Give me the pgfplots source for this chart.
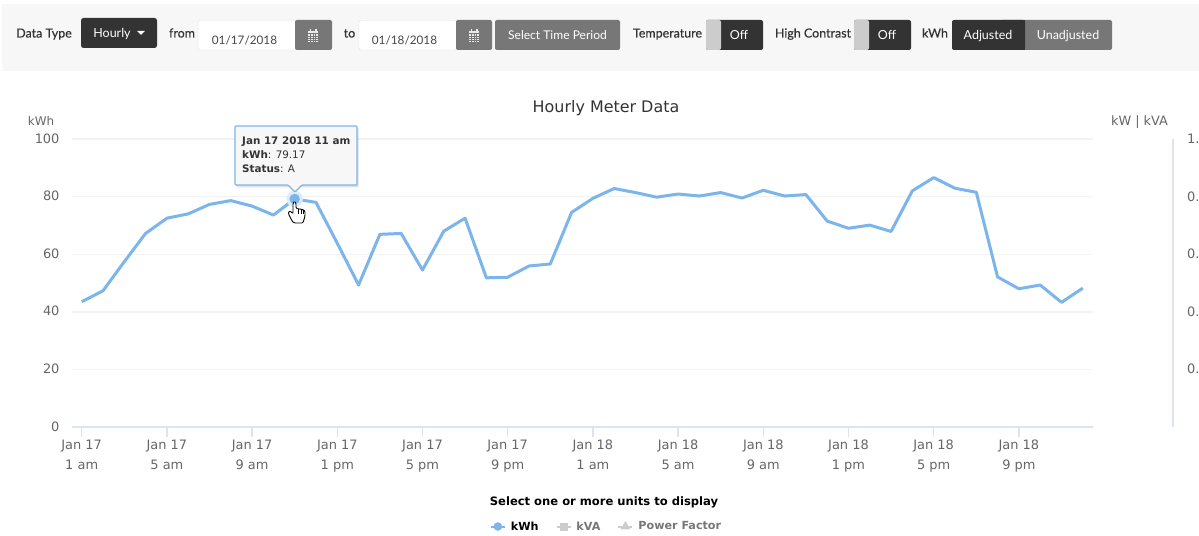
\documentclass[border=0pt]{standalone}
\usepackage{pgfplots}
\pgfplotsset{compat=1.18}
\usepackage{fontspec}
\setmainfont{DejaVu Sans}
\newfontfamily\ui{Lato}
\newfontfamily\uib[FakeBold=0.35]{Lato}
\definecolor{barbg}{HTML}{F7F7F7}
\definecolor{dk}{HTML}{333333}
\definecolor{md}{HTML}{777777}
\definecolor{knob}{HTML}{CCCCCC}
\definecolor{lblue}{HTML}{7CB5EC}
\definecolor{axl}{HTML}{DCE3F1}
\definecolor{grd}{HTML}{F2F2F2}
\definecolor{txt}{HTML}{666666}
\definecolor{uitx}{HTML}{333333}
\newcommand{\uisz}{\fontsize{12.5}{14}\selectfont\ui}
\newcommand{\uisb}{\fontsize{12.5}{14}\selectfont\uib}
\newcommand{\calicon}[2]{%
  \fill[white!85!md] (#1-5,#2-5) rectangle (#1+5,#2+6);
  \foreach \dx in {-2.5,0,2.5}{\draw[md,line width=.5bp] (#1+\dx,#2-2.5) -- (#1+\dx,#2+6);}
  \foreach \dy in {-2.5,0,2.5,4.5}{\draw[md,line width=.5bp] (#1-5,#2+\dy) -- (#1+5,#2+\dy);}
  \fill[white!85!md] (#1-3.5,#2-6.5) rectangle (#1-2,#2-4);
  \fill[white!85!md] (#1+2,#2-6.5) rectangle (#1+3.5,#2-4);
}
\begin{document}
\begin{tikzpicture}[x=1bp,y=-1bp]
\useasboundingbox (0,0) rectangle (1199,536);
\fill[white] (0,0) rectangle (1199,536);
\fill[barbg] (2,4) rectangle (1199,71);
% toolbar
\tikzset{lb/.style={text=uitx,inner sep=0pt,font=\uisz,anchor=base},
         lbb/.style={text=uitx,inner sep=0pt,font=\uisb,anchor=base},
         dt/.style={text=txt!70!black,inner sep=0pt,font=\fontsize{11.8}{14}\selectfont\ui,anchor=base}}
\node[lbb] at (44,37.5) {Data Type};
\fill[dk,rounded corners=2.5bp] (81,18) rectangle (157,48);
\node[lb,text=white] at (112,37.5) {Hourly};
\fill[white] (137,31) -- (145,31) -- (141,35) -- cycle;
\node[lbb] at (182,37.5) {from};
\draw[fill=white,draw=gray!22,rounded corners=2bp] (198,20.5) rectangle (297,50);
\node[dt] at (244.5,44.5) {01/17/2018};
\fill[md,rounded corners=2bp] (295,20) rectangle (332,50);
\calicon{313}{36}
\node[lbb] at (349.5,37.5) {to};
\draw[fill=white,draw=gray!22,rounded corners=2bp] (359,20.5) rectangle (457,50);
\node[dt] at (404.5,44.5) {01/18/2018};
\fill[md,rounded corners=2bp] (456,20) rectangle (492,50);
\calicon{474}{36}
\fill[md,rounded corners=2bp] (495,20) rectangle (620,50);
\node[lb,text=white,font=\fontsize{12.1}{14}\selectfont\ui] at (557.5,40) {Select Time Period};
\node[lbb] at (667.5,37.5) {Temperature};
\fill[dk,rounded corners=2bp] (706,20) rectangle (763,50);
\fill[knob,rounded corners=2bp] (706,20) rectangle (721,50);
\node[lb,text=white] at (739,40) {Off};
\node[lbb] at (813,37.5) {High Contrast};
\fill[dk,rounded corners=2bp] (854,20) rectangle (911,50);
\fill[knob,rounded corners=2bp] (854,20) rectangle (869,50);
\node[lb,text=white] at (887,40) {Off};
\node[lbb] at (935,37.5) {kWh};
\fill[md,rounded corners=2bp] (1000,20) rectangle (1112,50);
\fill[dk,rounded corners=2bp] (952,20) rectangle (1025,50);
\fill[dk] (1015,20) rectangle (1025,50);
\node[lb,text=white] at (988,40) {Adjusted};
\node[lb,text=white] at (1068,40) {Unadjusted};
% chart titles
\node[inner sep=0pt,anchor=base,text=dk,font=\fontsize{16}{18}\selectfont] at (606,112.5) {Hourly Meter Data};
\node[inner sep=0pt,anchor=base,text=txt,font=\fontsize{12}{14}\selectfont] at (41,126) {kWh};
\node[inner sep=0pt,anchor=base,text=txt,font=\fontsize{12.9}{14}\selectfont] at (1139.5,125.5) {kW | kVA};
% right axis remnant
\draw[axl,line width=1.2bp] (1173,139) -- (1173,427);
\foreach \yy/\ss in {139/1.,196.6/0.,254.2/0.,311.8/0.,369.4/0.}{
  \node[inner sep=0pt,anchor=base west,text=txt,font=\fontsize{13}{15}\selectfont] at (1187,\yy+4.5) {\ss};
}
\begin{axis}[
  at={(72bp,-427bp)},anchor=south west,
  scale only axis,width=1021bp,height=288bp,
  xmin=-0.455,xmax=47.48,ymin=0,ymax=100,
  axis y line=left,axis x line=bottom,
  axis line style={-,draw=axl,line width=1.3bp},
  y axis line style={draw=none},
  ytick={0,20,40,60,80,100},
  xtick={0,4,...,44},
  xticklabels={{Jan 17\\1 am},{Jan 17\\5 am},{Jan 17\\9 am},{Jan 17\\1 pm},{Jan 17\\5 pm},{Jan 17\\9 pm},{Jan 18\\1 am},{Jan 18\\5 am},{Jan 18\\9 am},{Jan 18\\1 pm},{Jan 18\\5 pm},{Jan 18\\9 pm}},
  x tick label style={align=center,text=txt,font=\fontsize{13}{20}\selectfont,yshift=0.5bp},
  y tick label style={text=txt,font=\fontsize{13}{15}\selectfont,xshift=1bp,yshift=0.7bp},
  /pgf/number format/assume math mode=true,
  ymajorgrids,grid style={grd,line width=1.4bp},
  major tick length=10bp,
  x tick style={draw=axl,line width=1.3bp},
  tick align=outside,
  y tick style={draw=none},
  xtick pos=bottom,ytick pos=left,
  legend columns=3,
  legend style={at={(0.5235,-0.3455)},anchor=center,draw=none,fill=none,inner sep=0pt,
     font=\fontsize{11.2}{15}\selectfont\bfseries,
     /tikz/every even column/.append style={column sep=15bp},
     /tikz/every odd column/.append style={column sep=3bp}},
  legend cell align=left,
  legend image code/.code={\draw[mark repeat=2,mark phase=2,#1] plot coordinates {(0bp,0bp)(7bp,0bp)(14bp,0bp)};},
  clip=false,
]
\addplot[forget plot,lblue,line width=3bp,mark=none,line join=round] coordinates {
(0,43.5)(1,47.3)(2,57.4)(3,67.2)(4,72.5)(5,74)(6,77.3)(7,78.6)(8,76.7)(9,73.6)(10,79.17)(11,78)
(12,63.8)(13,49.3)(14,66.9)(15,67.2)(16,54.5)(17,68)(18,72.5)(19,51.8)(20,52)(21,55.9)(22,56.6)(23,74.5)
(24,79.4)(25,82.8)(26,81.4)(27,79.8)(28,80.9)(29,80.2)(30,81.4)(31,79.5)(32,82.2)(33,80.2)(34,80.7)(35,71.5)
(36,69)(37,70.1)(38,67.9)(39,82)(40,86.6)(41,82.9)(42,81.5)(43,52.1)(44,48)(45,49.3)(46,43.3)(47,48.2)};
\addplot[forget plot,only marks,lblue!25,mark=*,mark size=8bp,mark options={draw=lblue!25,fill=lblue!25}] coordinates {(10,79.17)};
\addplot[forget plot,only marks,lblue,mark=*,mark size=5bp,mark options={draw=lblue,fill=lblue}] coordinates {(10,79.17)};
\addlegendimage{lblue,line width=2bp,mark=*,mark size=3.2bp,mark options={fill=lblue,draw=lblue}}
\addlegendentry{\textcolor{black}{kWh}}
\addlegendimage{knob,line width=2bp,mark=square*,mark size=3bp,mark options={fill=knob,draw=knob}}
\addlegendentry{\textcolor{md}{kVA}}
\addlegendimage{knob,line width=2bp,mark=triangle*,mark size=3.5bp,mark options={fill=knob,draw=knob}}
\addlegendentry{\textcolor{md}{Power Factor}}
\end{axis}
% tooltip
\fill[black,opacity=.12,rounded corners=1bp,shift={(1.5,1.5)}] (235,126) rectangle (357,186);
\draw[lblue,fill=barbg,line width=1.2bp,rounded corners=1bp] (235,126) -- (357,126) -- (357,185) -- (302,185) -- (295,192) -- (288,185) -- (235,185) -- cycle;
\node[inner sep=0pt,anchor=base west,text=dk,font=\fontsize{10.4}{13}\selectfont\bfseries] at (242,145) {Jan 17 2018 11 am};
\node[inner sep=0pt,anchor=base west,text=dk,font=\fontsize{10.4}{13}\selectfont] at (242,158.5) {\textbf{kWh}: 79.17};
\node[inner sep=0pt,anchor=base west,text=dk,font=\fontsize{10.4}{13}\selectfont] at (242,172.5) {\textbf{Status}: A};
% legend title
\node[inner sep=0pt,anchor=base,text=black,font=\fontsize{11.6}{14}\selectfont\bfseries] at (604,505.5) {Select one or more units to display};
% cursor
\draw[black,fill=white,line width=.9bp,rounded corners=1.2bp,line join=round]
 (292,221) -- (288.5,214) -- (288.5,211.5) -- (290.5,211) -- (293,214) -- (293,203) -- (294.5,201) -- (296,203) -- (296,208.5)
 -- (303,209.5) -- (305,211) -- (305,216) -- (303,223) -- (294,223) -- cycle;
\draw[black,line width=.7bp] (298.5,209) -- (298.5,214) (301,209.5) -- (301,214) (303.3,210) -- (303.3,214);
\end{tikzpicture}
\end{document}
